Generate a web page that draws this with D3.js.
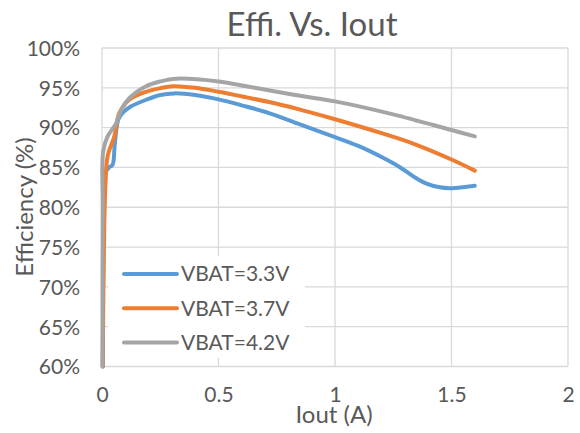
<!DOCTYPE html>
<html>
<head>
<meta charset="utf-8">
<script src="https://cdn.jsdelivr.net/npm/d3@7"></script>
<style>
html,body{margin:0;padding:0;background:#fff;}
svg{display:block;font-family:Lato,"Open Sans",sans-serif;}
</style>
</head>
<body>
<svg id="chart" width="580" height="433"></svg>
<script>
const title = "Effi. Vs. Iout";
const xTitle = "Iout (A)";
const yTitle = "Efficiency (%)";
const xTicks = [0, 0.5, 1, 1.5, 2];
const yTicks = [60, 65, 70, 75, 80, 85, 90, 95, 100];
const seriesNames = ["VBAT=3.3V", "VBAT=3.7V", "VBAT=4.2V"];
const seriesColors = ["#5B9BD5", "#ED7D31", "#A5A5A5"];

const iout33 = [0.004, 0.006, 0.010, 0.030, 0.045, 0.055, 0.070, 0.090, 0.120, 0.190, 0.250, 0.310, 0.400, 0.500, 0.600, 0.720, 0.850, 1.000, 1.100, 1.200, 1.280, 1.340, 1.390, 1.450, 1.500, 1.600];
const eff33  = [60.0, 80.0, 84.0, 85.0, 85.3, 88.0, 91.0, 91.9, 92.6, 93.5, 94.1, 94.3, 94.1, 93.55, 92.8, 91.8, 90.4, 88.8, 87.7, 86.3, 85.0, 83.8, 83.0, 82.5, 82.4, 82.7];

const iout37 = [0.003, 0.010, 0.015, 0.024, 0.053, 0.074, 0.117, 0.189, 0.250, 0.306, 0.400, 0.500, 0.620, 0.750, 0.870, 1.000, 1.200, 1.335, 1.500, 1.600];
const eff37  = [60.0, 78.0, 83.0, 86.4, 88.9, 91.8, 93.5, 94.5, 94.95, 95.2, 95.0, 94.5, 93.8, 93.0, 92.1, 91.05, 89.3, 88.0, 86.0, 84.6];

const iout42 = [0.002, 0.003, 0.005, 0.024, 0.060, 0.082, 0.117, 0.189, 0.250, 0.320, 0.500, 0.620, 0.750, 0.870, 1.000, 1.245, 1.500, 1.600];
const eff42  = [60.0, 80.0, 87.0, 88.9, 90.5, 92.2, 93.7, 95.2, 95.8, 96.15, 95.8, 95.2, 94.5, 93.9, 93.3, 91.7, 89.7, 88.9];

const series = [
  {name: seriesNames[0], color: seriesColors[0], x: iout33, y: eff33},
  {name: seriesNames[1], color: seriesColors[1], x: iout37, y: eff37},
  {name: seriesNames[2], color: seriesColors[2], x: iout42, y: eff42}
];

const svg = d3.select("#chart");
const pLeft = 102, pRight = 568, pTop = 48, pBottom = 366.5;
const x = d3.scaleLinear().domain([0, 2]).range([pLeft, pRight]);
const y = d3.scaleLinear().domain([60, 100]).range([pBottom, pTop]);
const textColor = "#595959";
const gridColor = "#D9D9D9";

// grid
const g = svg.append("g");
g.selectAll(".hg").data(yTicks).enter().append("line")
  .attr("x1", pLeft).attr("x2", pRight)
  .attr("y1", d => y(d)).attr("y2", d => y(d))
  .attr("stroke", gridColor).attr("stroke-width", 1.3);
g.selectAll(".vg").data(xTicks).enter().append("line")
  .attr("x1", d => x(d)).attr("x2", d => x(d))
  .attr("y1", pTop).attr("y2", pBottom)
  .attr("stroke", gridColor).attr("stroke-width", 1.3);

// axes labels
const yAxis = d3.axisLeft(y).tickValues(yTicks).tickFormat(d => d + "%").tickSize(0).tickPadding(22);
const ya = svg.append("g").attr("transform", `translate(${pLeft},0)`).call(yAxis);
ya.select(".domain").remove();
ya.selectAll("text").attr("fill", textColor).style("font-size", "21px").style("font-family", "Lato").attr("dy", "0.35em");

const xAxis = d3.axisBottom(x).tickValues(xTicks).tickFormat(d3.format("")).tickSize(0).tickPadding(21);
const xa = svg.append("g").attr("transform", `translate(0,${pBottom})`).call(xAxis);
xa.select(".domain").remove();
xa.selectAll("text").attr("fill", textColor).style("font-size", "21px").style("font-family", "Lato");

// lines
const line = d3.line().x(d => x(d[0])).y(d => y(d[1])).curve(d3.curveCatmullRom.alpha(0.5));
series.forEach(s => {
  const pts = s.x.map((v, i) => [v, s.y[i]]);
  svg.append("path").datum(pts)
    .attr("d", line)
    .attr("fill", "none")
    .attr("stroke", s.color)
    .attr("stroke-width", 4)
    .attr("stroke-linejoin", "round")
    .attr("stroke-linecap", "round");
});

// legend
const lg = svg.append("g");
lg.append("rect").attr("x", 108).attr("y", 256).attr("width", 197).attr("height", 102).attr("fill", "#fff");
series.forEach((s, i) => {
  const ly = 274 + i * 34.2;
  lg.append("line").attr("x1", 124).attr("x2", 177).attr("y1", ly).attr("y2", ly)
    .attr("stroke", s.color).attr("stroke-width", 4).attr("stroke-linecap", "round");
  lg.append("text").attr("x", 181).attr("y", ly).attr("dy", "0.35em")
    .attr("fill", textColor).style("font-size", "21px").text(s.name);
});

// titles
svg.append("text").attr("x", 312).attr("y", 36).attr("text-anchor", "middle")
  .attr("fill", textColor).style("font-size", "33px").text(title);
svg.append("text").attr("x", 334).attr("y", 423).attr("text-anchor", "middle")
  .attr("fill", textColor).style("font-size", "24px").text(xTitle);
svg.append("text").attr("transform", "translate(33,207) rotate(-90)").attr("text-anchor", "middle")
  .attr("fill", textColor).style("font-size", "24px").text(yTitle);
</script>
</body>
</html>
